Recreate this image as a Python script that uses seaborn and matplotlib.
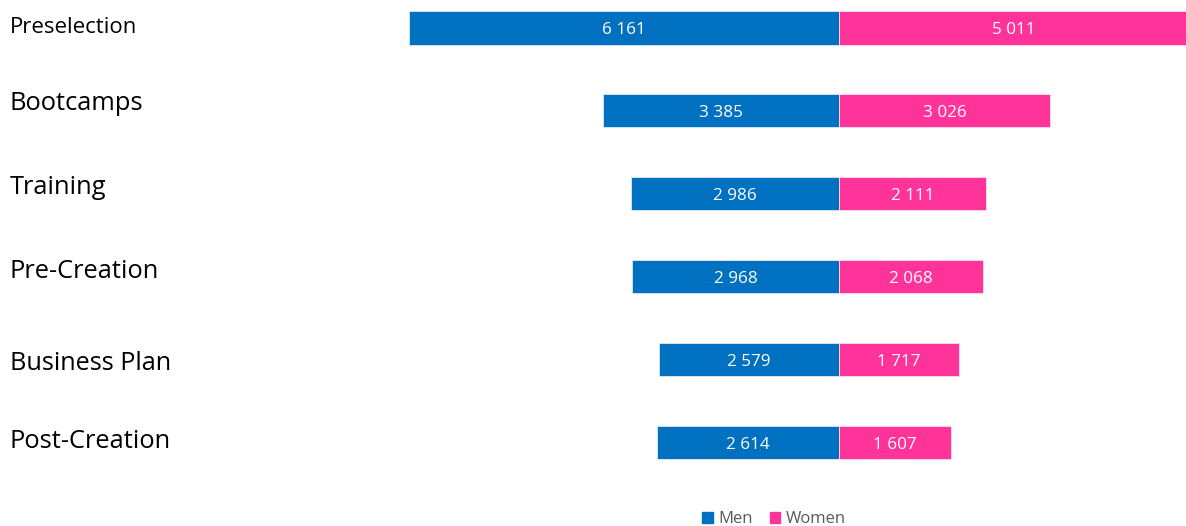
import matplotlib
matplotlib.use("Agg")
import matplotlib.pyplot as plt
import matplotlib.transforms as mtransforms
from matplotlib.patches import Patch
import numpy as np
import pandas as pd
import seaborn as sns

stages = ["Preselection", "Bootcamps", "Training", "Pre-Creation",
          "Business Plan", "Post-Creation"]
men = [6161, 3385, 2986, 2968, 2579, 2614]
women = [5011, 3026, 2111, 2068, 1717, 1607]

# per-row text styling for the stage names
stage_font_sizes = [16, 18.4, 18.4, 18.4, 18.2, 18.4]
stage_shift_px = [-0.5, -7.5, -6.5, -5.5, 3.5, -1.5]

MEN_COLOR = "#0070C0"
WOMEN_COLOR = "#FF3399"

sns.set_theme(style="white")
plt.rcParams["font.family"] = ["Open Sans", "DejaVu Sans"]

W, H = 1186, 526
fig = plt.figure(figsize=(W / 100, H / 100), dpi=100)
ax = fig.add_axes([409 / W, 0, 1 - 409 / W, 1])

df = pd.DataFrame({"stage": stages, "men": men, "women": women})
df["men_neg"] = -df["men"]

sns.barplot(data=df, x="men_neg", y="stage", color=MEN_COLOR, width=0.4,
            saturation=1, edgecolor="#dfeaf5", linewidth=0.6, ax=ax)
sns.barplot(data=df, x="women", y="stage", color=WOMEN_COLOR, width=0.4,
            saturation=1, edgecolor="#fbe0ee", linewidth=0.6, ax=ax)

px_per_unit = 430 / 6161
ax.set_xlim(-6161, (W - 409) / px_per_unit - 6161)
row_px = 82.9
top = -28 / row_px
ax.set_ylim(top + H / row_px, top)

# value labels inside each bar segment
dy = 2 / row_px
for i, (m, w) in enumerate(zip(men, women)):
    ax.text(-m / 2, i + dy, f"{m:,}".replace(",", " "), ha="center",
            va="center", color="white", fontsize=12.3)
    ax.text(w / 2, i + dy, f"{w:,}".replace(",", " "), ha="center",
            va="center", color="white", fontsize=12.3)

# stage names at the far left of the figure
trans = mtransforms.blended_transform_factory(fig.transFigure, ax.transData)
for i, (name, fs, sh) in enumerate(zip(stages, stage_font_sizes, stage_shift_px)):
    ax.text(10 / W, i + sh / row_px, name, transform=trans, ha="left",
            va="center", fontsize=fs, color="black", clip_on=False)

ax.set_xlabel("")
ax.set_ylabel("")
ax.set_xticks([])
ax.set_yticks([])
for s in ax.spines.values():
    s.set_visible(False)

handles = [Patch(color=MEN_COLOR, label="Men"),
           Patch(color=WOMEN_COLOR, label="Women")]
fig.legend(handles=handles, loc="center", bbox_to_anchor=(774 / W, 1 - 519 / H),
           ncol=2, frameon=False, fontsize=12, handlelength=0.65,
           handleheight=0.65, handletextpad=0.35, columnspacing=1.0,
           labelcolor="#595959")

fig.savefig("out.png", dpi=100)
